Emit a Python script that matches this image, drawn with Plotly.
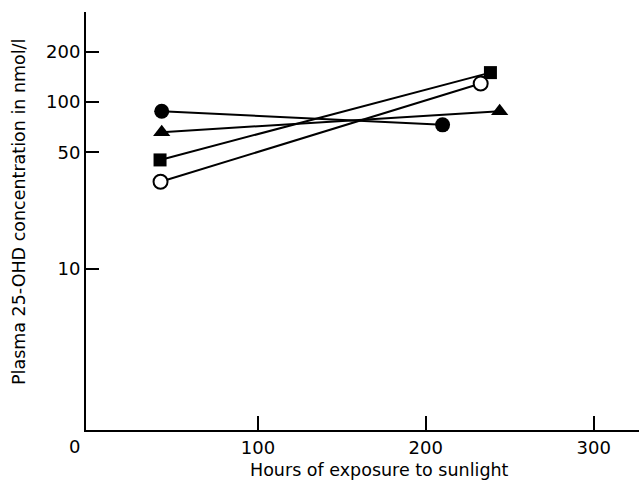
import plotly.graph_objects as go

# Data (hours of exposure, plasma 25-OHD nmol/l)
hours_filled_circle = [42.7, 210]
conc_filled_circle = [88, 73]
hours_triangle = [42.7, 244]
conc_triangle = [66, 88]
hours_square = [41.7, 238.5]
conc_square = [45, 150]
hours_open_circle = [42, 232.7]
conc_open_circle = [33.3, 129]

x_ticks = [100, 200, 300]
y_ticks = [10, 50, 100, 200]

x_title = "Hours of exposure to sunlight"
y_title = "Plasma 25-OHD concentration in nmol/l"

series = [
    (hours_filled_circle, conc_filled_circle, dict(symbol="circle", size=15, color="black")),
    (hours_triangle, conc_triangle, dict(symbol="triangle-up", size=15, color="black")),
    (hours_square, conc_square, dict(symbol="square", size=13, color="black")),
    (hours_open_circle, conc_open_circle,
     dict(symbol="circle", size=14, color="white", line=dict(color="black", width=2))),
]

fig = go.Figure()
for xs, ys, mk in series:
    fig.add_trace(go.Scatter(x=xs, y=ys, mode="lines+markers",
                             line=dict(color="black", width=2),
                             marker=mk, showlegend=False))

font_family = "DejaVu Sans"
W, H = 639, 483
ml, mr, mt, mb = 86, 0, 12, 53
pw, ph = W - ml - mr, H - mt - mb

fig.update_layout(
    width=W, height=H,
    margin=dict(l=ml, r=mr, t=mt, b=mb),
    paper_bgcolor="white", plot_bgcolor="white",
    font=dict(family=font_family, color="black"),
    xaxis=dict(range=[-2.4, 327], tickvals=x_ticks, ticktext=[str(v) for v in x_ticks],
               ticks="inside", ticklen=14, tickwidth=2, tickcolor="black",
               showline=True, linewidth=2, linecolor="black",
               showgrid=False, zeroline=False,
               tickfont=dict(size=18)),
    yaxis=dict(type="log", range=[0.036, 2.539], tickvals=y_ticks,
               ticktext=[str(v) for v in y_ticks],
               ticks="inside", ticklen=13, tickwidth=2, tickcolor="black",
               showline=True, linewidth=2, linecolor="black",
               showgrid=False, zeroline=False,
               tickfont=dict(size=18)),
)
# "0" label at the origin corner
fig.add_annotation(x=-2.4, y=0, xref="x", yref="paper", text="0", showarrow=False,
                   xanchor="center", yanchor="top", xshift=-12, yshift=-4,
                   font=dict(size=18, family=font_family))
# axis titles placed as in the reference
fig.add_annotation(x=(380 - ml) / pw, y=-(470 - mt - ph) / ph, xref="paper", yref="paper",
                   text=x_title, showarrow=False, xanchor="center", yanchor="middle",
                   font=dict(size=17.5, family=font_family))
fig.add_annotation(x=(19 - ml) / pw, y=1 - (212 - mt) / ph, xref="paper", yref="paper",
                   text=y_title, showarrow=False, textangle=-90,
                   xanchor="center", yanchor="middle",
                   font=dict(size=17.5, family=font_family))
fig.write_html("out.html")
